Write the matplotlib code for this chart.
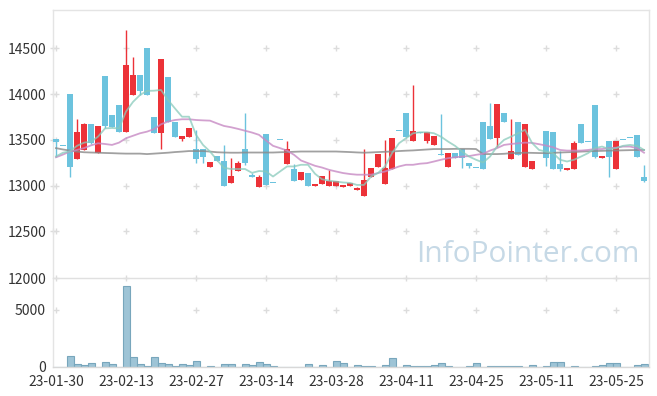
import numpy as np
import matplotlib
matplotlib.use("Agg")
import matplotlib.pyplot as plt

# candle data (trading days 23-01-30 .. 23-06-01)
opens = [13510, 13430, 14000, 13294, 13388, 13670, 13360, 14195, 13770, 13880,
         13590, 13990, 14205, 14500, 13746, 13580, 14188, 13690, 13515, 13535,
         13400, 13400, 13207, 13323, 13268, 13025, 13155, 13400, 13115, 12990,
         13560, 13030, 13495, 13237, 13185, 13065, 13140, 13000, 13020, 13000,
         13000, 12990, 13000, 12955, 12890, 13090, 13200, 13020, 13185, 13598,
         13795, 13490, 13583, 13490, 13445, 13348, 13207, 13355, 13400, 13245,
         13195, 13695, 13650, 13518, 13790, 13295, 13695, 13203, 13185, 13297,
         13598, 13587, 13237, 13167, 13185, 13670, 13475, 13880, 13297, 13490,
         13185, 13495, 13517, 13555, 13090]
closes = [13480, 13430, 13200, 13583, 13668, 13468, 13650, 13650, 13640, 13590,
          14320, 14205, 14035, 13990, 13580, 14387, 13700, 13526, 13540, 13625,
          13295, 13310, 13255, 13264, 13000, 13105, 13245, 13250, 13090, 13100,
          13008, 13030, 13495, 13400, 13055, 13150, 13000, 13020, 13105, 13050,
          13050, 13010, 13033, 12975, 13060, 13190, 13348, 13190, 13520, 13598,
          13535, 13598, 13570, 13583, 13545, 13330, 13355, 13300, 13300, 13210,
          13195, 13185, 13510, 13890, 13690, 13380, 13340, 13675, 13270, 13297,
          13297, 13185, 13185, 13195, 13463, 13470, 13475, 13318, 13323, 13318,
          13490, 13495, 13517, 13308, 13055]
highs = [13510, 13430, 14000, 13728, 13680, 13670, 13650, 14195, 13770, 13880,
         14700, 14400, 14205, 14500, 13746, 14387, 14188, 13690, 13540, 13625,
         13610, 13400, 13255, 13323, 13445, 13300, 13264, 13790, 13140, 13120,
         13560, 13030, 13495, 13485, 13237, 13150, 13140, 13020, 13105, 13170,
         13050, 13010, 13033, 12990, 13400, 13190, 13348, 13500, 13520, 13598,
         13795, 14095, 13583, 13583, 13545, 13783, 13355, 13355, 13400, 13245,
         13195, 13695, 13900, 13890, 13790, 13730, 13695, 13675, 13270, 13297,
         13598, 13587, 13383, 13195, 13490, 13670, 13475, 13880, 13323, 13490,
         13490, 13495, 13517, 13555, 13228]
lows = [13318, 13430, 13090, 13294, 13388, 13450, 13360, 13627, 13640, 13590,
        13590, 13990, 13990, 13990, 13580, 13395, 13700, 13526, 13490, 13535,
        13250, 13250, 13207, 13264, 13000, 13025, 13155, 13225, 13090, 12990,
        13008, 13030, 13495, 13237, 13055, 13065, 13000, 13000, 13020, 13000,
        13000, 12990, 13000, 12955, 12890, 13090, 13200, 13020, 13185, 13598,
        13535, 13490, 13570, 13470, 13445, 13330, 13207, 13300, 13190, 13190,
        13195, 13185, 13510, 13420, 13690, 13295, 13340, 13203, 13185, 13297,
        13210, 13185, 13160, 13167, 13185, 13470, 13475, 13300, 13297, 13090,
        13185, 13495, 13517, 13308, 13040]
volumes = [0, 0, 174, 11, 4, 21, 0, 33, 11, 0,
           10000, 143, 11, 1, 143, 21, 11, 1, 11, 4,
           49, 0, 1, 0, 11, 11, 0, 11, 4, 33,
           11, 1, 0, 0, 0, 0, 11, 0, 4, 0,
           49, 21, 0, 4, 1, 1, 0, 4, 115, 0,
           4, 1, 1, 1, 4, 21, 1, 0, 0, 1,
           21, 0, 1, 1, 1, 1, 1, 0, 4, 0,
           1, 38, 38, 0, 1, 0, 0, 1, 4, 21,
           21, 0, 0, 4, 11]

ma5 = [13320, 13360, 13375, 13435, 13470, 13480, 13535, 13625, 13630, 13625,
       13810, 13915, 13990, 14035, 14037, 14045, 13935, 13843, 13753, 13753,
       13555, 13445, 13373, 13280, 13195, 13182, 13182, 13182, 13140, 13160,
       13155, 13100, 13155, 13210, 13210, 13228, 13228, 13130, 13070, 13055,
       13045, 13035, 13030, 13008, 13008, 13100, 13138, 13210, 13355, 13463,
       13518, 13572, 13583, 13583, 13572, 13535, 13482, 13435, 13373, 13318,
       13283, 13253, 13318, 13427, 13500, 13535, 13572, 13610, 13467, 13390,
       13372, 13355, 13283, 13264, 13283, 13318, 13355, 13410, 13427, 13400,
       13410, 13435, 13445, 13435, 13390]
ma20 = [13310, 13340, 13373, 13390, 13410, 13440, 13463, 13455, 13445, 13470,
        13518, 13545, 13572, 13590, 13617, 13670, 13700, 13717, 13725, 13725,
        13717, 13713, 13710, 13680, 13652, 13638, 13620, 13600, 13580, 13555,
        13493, 13435, 13410, 13383, 13337, 13275, 13246, 13217, 13198, 13173,
        13155, 13138, 13127, 13120, 13120, 13120, 13138, 13155, 13182, 13210,
        13228, 13228, 13240, 13246, 13264, 13283, 13300, 13310, 13318, 13323,
        13337, 13348, 13383, 13410, 13445, 13455, 13463, 13470, 13467, 13453,
        13438, 13420, 13390, 13383, 13383, 13383, 13390, 13400, 13400, 13410,
        13415, 13427, 13427, 13410, 13360]
ma60 = [13410, 13395, 13383, 13372, 13365, 13362, 13360, 13357, 13355, 13352,
        13350, 13350, 13350, 13345, 13350, 13355, 13360, 13367, 13372, 13378,
        13378, 13378, 13372, 13365, 13362, 13360, 13360, 13362, 13362, 13362,
        13362, 13362, 13365, 13367, 13370, 13373, 13373, 13373, 13373, 13373,
        13373, 13370, 13367, 13363, 13360, 13363, 13367, 13370, 13373, 13378,
        13382, 13385, 13390, 13395, 13400, 13400, 13400, 13402, 13402, 13402,
        13400, 13345, 13345, 13345, 13348, 13355, 13357, 13360, 13358, 13356,
        13355, 13358, 13362, 13365, 13368, 13372, 13375, 13378, 13380, 13383,
        13384, 13386, 13388, 13389, 13390]

tick_pos = [0, 10, 20, 30, 40, 50, 60, 70, 80]
tick_labels = ['23-01-30', '23-02-13', '23-02-27', '23-03-14', '23-03-28',
               '23-04-11', '23-04-25', '23-05-11', '23-05-25']
price_ticks = [12500, 13000, 13500, 14000, 14500]
vol_ticks = [0, 5000, 12000]

RED = '#ec3238'
BLUE = '#6cc3de'
GRID = '#dcdcdc'
FRAME = '#e4e4e4'
TXT = '#333333'
FONT = ['Noto Sans CJK KR', 'DejaVu Sans']

plt.rcParams['font.family'] = FONT

W, H = 657, 396
fig = plt.figure(figsize=(W / 100, H / 100), dpi=100)
left = 53 / W
width = (648.5 - 53) / W
ax1 = fig.add_axes([left, 1 - 278 / H, width, (278 - 10) / H])
ax2 = fig.add_axes([left, 1 - 367 / H, width, (367 - 278) / H], sharex=ax1)

x = np.arange(len(opens))
o = np.array(opens, float)
c = np.array(closes, float)
up = c > o
colors = np.where(up, RED, BLUE)

# grid crosses
for xt in tick_pos:
    ax1.scatter([xt] * len(price_ticks), price_ticks, marker='+', s=22,
                color=GRID, lw=1, zorder=0)
    ax2.scatter([xt, xt], [5000, 12000], marker='+', s=22, color=GRID,
                lw=1, zorder=0, clip_on=False)
ax1.scatter([-0.43] * len(price_ticks), price_ticks, marker='+', s=22,
            color=GRID, lw=1, zorder=0, clip_on=False)

# candles
ax1.vlines(x, lows, highs, colors=colors, lw=1, zorder=2)
body_bottom = np.minimum(o, c)
body_h = np.maximum(np.abs(c - o), 10)
ax1.bar(x, body_h, bottom=body_bottom, width=0.72, color=colors, zorder=3)

# moving averages
ax1.plot(x, ma60, color='#8a8a8a', lw=1.3, alpha=0.8, zorder=4)
ax1.plot(x, ma20, color='#c78ac4', lw=1.3, alpha=0.8, zorder=4)
ax1.plot(x, ma5, color='#88cabb', lw=1.3, alpha=0.75, zorder=4)

ax1.text(0.985, 0.035, 'InfoPointer.com', transform=ax1.transAxes,
         ha='right', va='bottom', fontsize=21.5, color='#c6d9e6',
         family=['Open Sans', 'DejaVu Sans'], zorder=1)

ax1.set_xlim(-0.43, 84.64)
ax1.set_ylim(11992, 14918)
ax1.set_yticks(price_ticks)
ax1.set_yticklabels([str(t) for t in price_ticks])
ax1.tick_params(axis='y', length=0, pad=5, labelsize=10, labelcolor=TXT)
ax1.tick_params(axis='x', length=0, labelbottom=False)

# volume
ax2.set_yscale('function', functions=(np.sqrt, lambda v: np.square(v)))
ax2.bar(x, volumes, width=1.0, color='#9ec4d6', edgecolor='#78a6bc',
        lw=0.8, zorder=2)
ax2.set_ylim(0, 12000)
ax2.set_yticks(vol_ticks)
ax2.set_yticklabels([str(t) for t in vol_ticks])
ax2.yaxis.set_minor_locator(matplotlib.ticker.NullLocator())
ax2.tick_params(axis='y', which='both', length=0, pad=5, labelsize=10,
                labelcolor=TXT)
ax2.get_yticklabels()[0].set_va('center_baseline')
ax2.set_xticks(tick_pos)
ax2.set_xticklabels(tick_labels)
ax2.tick_params(axis='x', length=0, pad=6, labelsize=10, labelcolor=TXT)

for ax in (ax1, ax2):
    for s in ax.spines.values():
        s.set_color(FRAME)
        s.set_linewidth(1)
ax1.spines['bottom'].set_visible(False)
ax2.spines['top'].set_color('#e0e0e0')
ax2.spines['bottom'].set_color('#d8d8d8')

fig.savefig('out.png', dpi=100)
